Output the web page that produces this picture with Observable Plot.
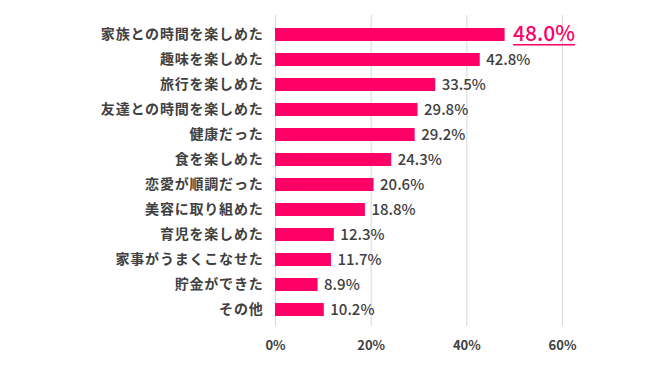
<!DOCTYPE html>
<html>
<head>
<meta charset="utf-8">
<script src="https://cdn.jsdelivr.net/npm/d3@7"></script>
<script src="https://cdn.jsdelivr.net/npm/@observablehq/plot@0.6"></script>
<style>
  html, body { margin: 0; padding: 0; background: #fff; }
  #chart { width: 650px; height: 369px; }
</style>
</head>
<body>
<div id="chart"></div>
<script>
const categories = ["家族との時間を楽しめた","趣味を楽しめた","旅行を楽しめた","友達との時間を楽しめた","健康だった","食を楽しめた","恋愛が順調だった","美容に取り組めた","育児を楽しめた","家事がうまくこなせた","貯金ができた","その他"];
const values = [48.0, 42.8, 33.5, 29.8, 29.2, 24.3, 20.6, 18.8, 12.3, 11.7, 8.9, 10.2];
const xTicks = [0, 20, 40, 60];

const data = categories.map((c, i) => ({category: c, value: values[i]}));
const pink = "#ff0066";
const textColor = "#404040";

const chart = Plot.plot({
  width: 650,
  height: 369,
  marginTop: 15,
  marginBottom: 43,
  marginLeft: 275,
  marginRight: 88,
  style: {fontFamily: "'Noto Sans CJK JP', 'Noto Sans', sans-serif", background: "#fff"},
  x: {domain: [0, 60], ticks: xTicks},
  y: {domain: categories, paddingInner: 0.49, paddingOuter: 0.25, align: 0.57},
  marks: [
    Plot.gridX(xTicks, {stroke: "#d9d9d9", strokeOpacity: 1, strokeWidth: 1}),
    Plot.barX(data, {x: "value", y: "category", fill: pink}),
    Plot.text(data.slice(1), {x: "value", y: "category", text: d => d.value.toFixed(1) + "%", textAnchor: "start", dx: 6, fill: textColor, fontSize: 15, fontWeight: 500}),
    Plot.text(data.slice(0, 1), {x: "value", y: "category", text: d => d.value.toFixed(1) + "%", textAnchor: "start", dx: 8, dy: -1, fill: pink, fontSize: 21, fontWeight: 500}),
    Plot.axisY({tickSize: 0, tickPadding: 12, label: null, fontSize: 14, fontWeight: "bold", fill: textColor}),
    Plot.axisX({ticks: xTicks, tickSize: 0, tickPadding: 14, label: null, tickFormat: d => d + "%", fontSize: 13, fontWeight: "bold", fill: textColor})
  ]
});
document.getElementById("chart").appendChild(chart);
d3.select(chart).selectAll('g[aria-label="y-axis tick label"] text').style("letter-spacing", "0.8px");
// underline for the highlighted (largest) label, derived from its rendered box
const topLabel = values[0].toFixed(1) + "%";
d3.select(chart).selectAll("text").filter(function () {
  return this.textContent === topLabel && this.closest("g") && this.closest("g").getAttribute("font-size") === "21";
}).each(function () {
  const b = this.getBBox();
  const m = this.getCTM();
  const p1 = chart.createSVGPoint(); p1.x = b.x; p1.y = b.y + b.height - 2;
  const p2 = chart.createSVGPoint(); p2.x = b.x + b.width; p2.y = b.y + b.height - 2;
  const s = chart.getScreenCTM().inverse().multiply(this.getScreenCTM());
  const q1 = p1.matrixTransform(s), q2 = p2.matrixTransform(s);
  d3.select(chart).append("line")
    .attr("x1", q1.x).attr("x2", q2.x)
    .attr("y1", q1.y).attr("y2", q2.y)
    .attr("stroke", pink).attr("stroke-width", 1.5);
});
</script>
</body>
</html>
